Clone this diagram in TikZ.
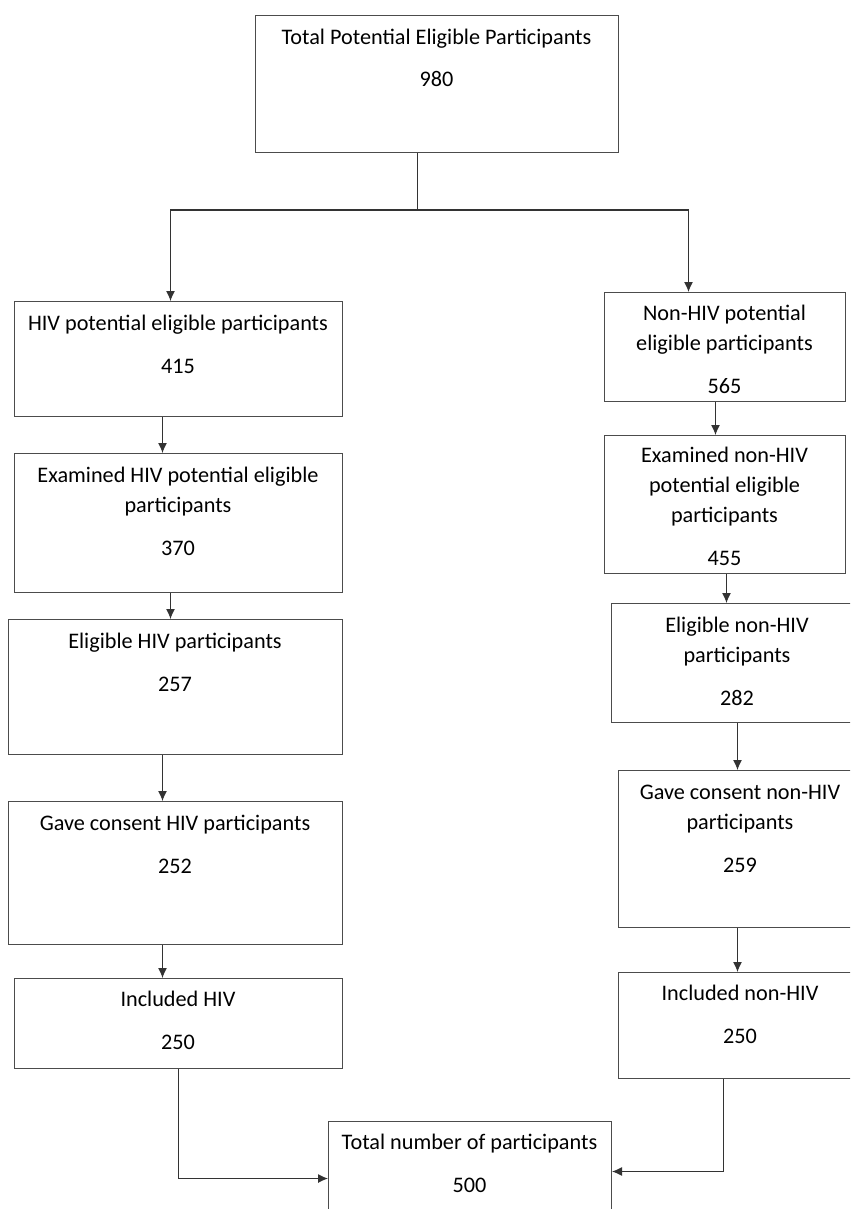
\documentclass[tikz,border=0pt]{standalone}
\usepackage{fontspec}
\setmainfont{Carlito}
\usepackage{tikz}
\usetikzlibrary{shapes,arrows.meta}
\usetikzlibrary{positioning}
\tikzset{auto,>={Latex[length=2mm,width=1.8mm]}, font=\fontsize{12.65}{17}\selectfont}
\tikzstyle{box} = [draw=black!70, line width=0.6pt, rectangle, anchor=north west, inner sep=0pt]
\tikzstyle{txt} = [anchor=base, align=center, inner sep=0pt]
\tikzstyle{line} = [draw=black!80, line width=0.6pt]

\begin{document}
\begin{tikzpicture}[x=0.02cm, y=-0.02cm]
    \useasboundingbox (0,0) rectangle (850,1209);
    \clip (0,0) rectangle (850,1209);

    % boxes
    \node [box, minimum width=7.26cm, minimum height=2.74cm] (total) at (255,15) {};
    \node [box, minimum width=6.56cm, minimum height=2.30cm] (hiv) at (14,301) {};
    \node [box, minimum width=6.56cm, minimum height=2.78cm] (exhiv) at (14,453) {};
    \node [box, minimum width=6.68cm, minimum height=2.70cm] (elhiv) at (8,619) {};
    \node [box, minimum width=6.68cm, minimum height=2.86cm] (conhiv) at (8,801) {};
    \node [box, minimum width=6.56cm, minimum height=1.80cm] (inhiv) at (14,978) {};
    \node [box, minimum width=4.82cm, minimum height=2.18cm] (nonhiv) at (604,292) {};
    \node [box, minimum width=4.82cm, minimum height=2.76cm] (exnon) at (604,435) {};
    \node [box, minimum width=5.04cm, minimum height=2.38cm] (elnon) at (611,603) {};
    \node [box, minimum width=4.88cm, minimum height=3.14cm] (connon) at (618,770) {};
    \node [box, minimum width=4.88cm, minimum height=2.12cm] (innon) at (618,972) {};
    \node [box, minimum width=5.66cm, minimum height=2.28cm] (allp) at (328,1121) {};

    % texts (placed by the baseline of the count)
    \node [txt] (total-t) at (436.5,87) {Total Potential Eligible Participants\\[0.26cm]980};
    \node [txt] (hiv-t) at (178,373) {HIV potential eligible participants\\[0.26cm]415};
    \node [txt] (exhiv-t) at (178,555) {Examined HIV potential eligible\\participants\\[0.26cm]370};
    \node [txt] (elhiv-t) at (175,691) {Eligible HIV participants\\[0.26cm]257};
    \node [txt] (conhiv-t) at (175,873) {Gave consent HIV participants\\[0.26cm]252};
    \node [txt] (inhiv-t) at (178,1049) {Included HIV\\[0.26cm]250};
    \node [txt] (nonhiv-t) at (724.5,393) {Non-HIV potential\\eligible participants\\[0.26cm]565};
    \node [txt] (exnon-t) at (724.5,565) {Examined non-HIV\\potential eligible\\participants\\[0.26cm]455};
    \node [txt] (elnon-t) at (737,705) {Eligible non-HIV\\participants\\[0.26cm]282};
    \node [txt] (connon-t) at (740,872) {Gave consent non-HIV\\participants\\[0.26cm]259};
    \node [txt] (innon-t) at (740,1043) {Included non-HIV\\[0.26cm]250};
    \node [txt] (allp-t) at (469.5,1192) {Total number of participants\\[0.26cm]500};

    % split
    \draw [line] ([xshift=-0.39cm]total.south) -- ++(0,57) coordinate (split);
    \draw [line,->] (split) -| ([xshift=-0.16cm]hiv.north);
    \draw [line,->] (split) -| ([xshift=-0.73cm]nonhiv.north);

    % HIV branch
    \draw [line,->] ([xshift=-0.32cm]hiv.south) -- ([xshift=-0.32cm]hiv.south |- exhiv.north);
    \draw [line,->] ([xshift=-0.16cm]exhiv.south) -- ([xshift=-0.16cm]exhiv.south |- elhiv.north);
    \draw [line,->] ([xshift=-0.26cm]elhiv.south) -- ([xshift=-0.26cm]elhiv.south |- conhiv.north);
    \draw [line,->] ([xshift=-0.26cm]conhiv.south) -- ([xshift=-0.26cm]conhiv.south |- inhiv.north);
    \draw [line,->] (inhiv.south) |- (allp.west);

    % non-HIV branch
    \draw [line,->] ([xshift=-0.19cm]nonhiv.south) -- ([xshift=-0.19cm]nonhiv.south |- exnon.north);
    \draw [line,->] ([xshift=0.03cm]exnon.south) -- ([xshift=0.03cm]exnon.south |- elnon.north);
    \draw [line,->] (elnon.south) -- (elnon.south |- connon.north);
    \draw [line,->] ([xshift=-0.06cm]connon.south) -- ([xshift=-0.06cm]connon.south |- innon.north);
    \draw [line,->] ([xshift=-0.34cm]innon.south) |- ([yshift=0.14cm]allp.east);
\end{tikzpicture}
\end{document}
